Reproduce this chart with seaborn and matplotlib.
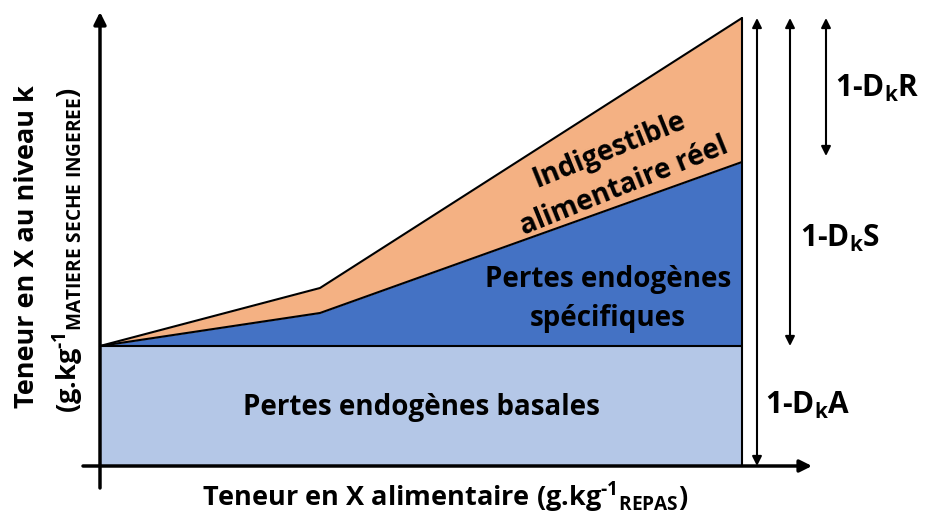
import matplotlib
matplotlib.use("Agg")
import matplotlib.pyplot as plt
import seaborn as sns
import pandas as pd

# diagram values (arbitrary units, origin at the axes corner)
x_teneur = [0, 220, 642]
basales = [120, 120, 120]
specifiques = [0, 33, 184]
indigestible = [0, 25, 144]

zone_labels = ["Pertes endogènes basales", "Pertes endogènes\nspécifiques",
               "Indigestible\nalimentaire réel"]
arrow_labels = ["1-D$_k$A", "1-D$_k$S", "1-D$_k$R"]

FONT = "Open Sans"
sns.set_theme(style="white")
plt.rcParams["font.family"] = [FONT, "DejaVu Sans"]
plt.rcParams["text.color"] = "black"
plt.rcParams["mathtext.fontset"] = "custom"
plt.rcParams["mathtext.rm"] = FONT + ":bold"
plt.rcParams["mathtext.it"] = FONT + ":bold"
plt.rcParams["mathtext.bf"] = FONT + ":bold"

df = pd.DataFrame({"x": x_teneur, "bas": basales})
df["spec"] = df["bas"] + pd.Series(specifiques)
df["tot"] = df["spec"] + pd.Series(indigestible)

fig = plt.figure(figsize=(9.28, 5.2), dpi=100)
ax = fig.add_axes([0, 0, 1, 1])
ax.set_xlim(-100, 828)
ax.set_ylim(-54, 466)
ax.axis("off")

# stacked areas
ax.fill_between(df["x"], 0, df["bas"], color="#B4C7E7", lw=0)
ax.fill_between(df["x"], df["bas"], df["spec"], color="#4472C4", lw=0)
ax.fill_between(df["x"], df["spec"], df["tot"], color="#F4B183", lw=0)
for col in ["bas", "spec", "tot"]:
    sns.lineplot(data=df, x="x", y=col, ax=ax, color="black", lw=1.5)
xe = df["x"].iloc[-1]
ax.plot([xe, xe], [0, df["tot"].iloc[-1]], color="black", lw=1.5)

# axes arrows
ax.annotate("", xy=(0, 454), xytext=(0, -22),
            arrowprops=dict(arrowstyle="-|>", lw=2.5, color="black", mutation_scale=18, shrinkA=0, shrinkB=0))
ax.annotate("", xy=(712, 0), xytext=(-17, 0),
            arrowprops=dict(arrowstyle="-|>", lw=2.5, color="black", mutation_scale=18, shrinkA=0, shrinkB=0))

# double arrows on the right
top = df["tot"].iloc[-1]
for xa, ybot in [(657, 0), (690, df["bas"].iloc[-1]), (726, df["spec"].iloc[-1] + 6)]:
    ax.annotate("", xy=(xa, top), xytext=(xa, ybot),
                arrowprops=dict(arrowstyle="<|-|>", lw=1.5, color="black", mutation_scale=14, shrinkA=0, shrinkB=0))

fs = 20
ax.text(321, 58, zone_labels[0], ha="center", va="center", fontsize=fs, fontweight="bold")
ax.text(508, 167, zone_labels[1], ha="center", va="center", fontsize=fs, fontweight="bold", linespacing=1.45)
ax.text(517, 298, zone_labels[2], ha="center", va="center", fontsize=fs, fontweight="bold",
        rotation=22, rotation_mode="anchor", linespacing=1.45)

ax.text(665, 61, arrow_labels[0], ha="left", va="center", fontsize=21.5, fontweight="bold")
ax.text(700, 228, arrow_labels[1], ha="left", va="center", fontsize=21.5, fontweight="bold")
ax.text(735, 378, arrow_labels[2], ha="left", va="center", fontsize=21.5, fontweight="bold")

# axis titles
ax.text(345, -31, r"Teneur en X alimentaire (g.kg$^{\text{-}1}$$_{REPAS}$)", ha="center", va="center",
        fontsize=19.5, fontweight="bold")
ax.text(-73, 219, "Teneur en X au niveau k", ha="center", va="center", rotation=90,
        fontsize=19.5, fontweight="bold")
ax.text(-32, 216, r"(g.kg$^{\text{-}1}$$_{MATIERE\ SECHE\ INGEREE}$)", ha="center", va="center", rotation=90,
        fontsize=19.5, fontweight="bold")

fig.savefig("out.png", dpi=100)
